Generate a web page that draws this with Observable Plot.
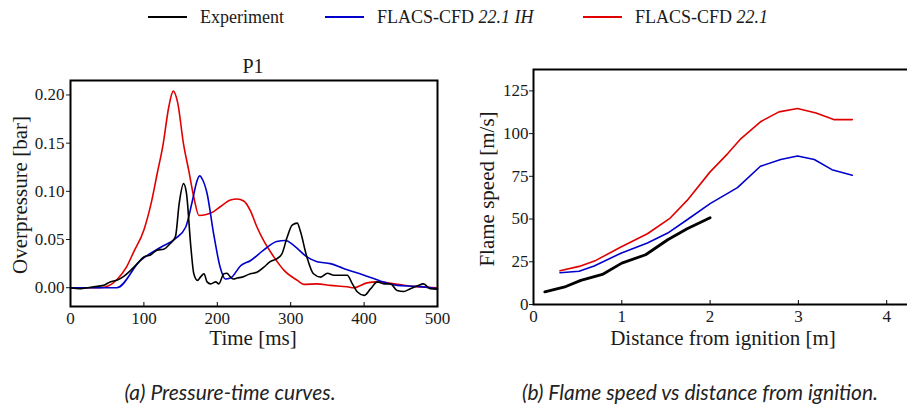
<!DOCTYPE html>
<html>
<head>
<meta charset="utf-8">
<script src="https://cdn.jsdelivr.net/npm/d3@7"></script>
<script src="https://cdn.jsdelivr.net/npm/@observablehq/plot@0.6"></script>
<style>
  html, body { margin: 0; padding: 0; background: #fff; overflow: hidden; }
  #wrap { position: relative; width: 907px; height: 406px; overflow: hidden; font-family: "Liberation Serif", serif; color: #1a1a1a; }
  #wrap svg { max-width: none !important; }
  .abs { position: absolute; white-space: nowrap; }
  .lbl { font-size: 21px; transform: translate(-50%, -50%); }
  .rot { transform: translate(-50%, -50%) rotate(-90deg); }
  .cap { font-family: Lato, "Open Sans", sans-serif; font-style: italic; font-size: 21px; transform: translate(-50%, -50%); color: #222; }
  #legend { position: absolute; top: 17px; left: 0; height: 0; font-size: 18px; }
  .leg-line { position: absolute; height: 0; border-top: 2px solid; top: -1px; }
  .leg-text { position: absolute; transform: translateY(-50%); white-space: nowrap; }
</style>
</head>
<body>
<div id="wrap">
  <div id="legend"></div>
  <div id="left" class="abs" style="left:0;top:0;"></div>
  <div id="right" class="abs" style="left:450px;top:0;"></div>
</div>
<script>
// ---------- Panel (a): pressure-time curves ----------
const expT = [0, 14, 32, 45, 54, 64, 73, 82, 91, 100, 109, 118, 127, 136, 143, 148, 154, 158, 164, 168, 173, 177, 182, 186, 191, 198, 202, 209, 213, 218, 222, 227, 234, 245, 254, 263, 272, 281, 288, 295, 302, 309, 313, 322, 331, 341, 350, 359, 368, 377, 384, 391, 400, 409, 418, 427, 436, 445, 454, 463, 472, 481, 490, 500];
const expP = [0, -0.001, 0.001, 0.0024, 0.006, 0.008, 0.012, 0.018, 0.025, 0.032, 0.034, 0.039, 0.040, 0.046, 0.053, 0.087, 0.108, 0.098, 0.042, 0.0145, 0.0076, 0.011, 0.0145, 0.006, 0.004, 0.006, 0.004, 0.0145, 0.015, 0.011, 0.009, 0.010, 0.011, 0.0145, 0.016, 0.021, 0.027, 0.030, 0.035, 0.052, 0.065, 0.067, 0.059, 0.032, 0.0145, 0.011, 0.015, 0.013, 0.013, 0.013, 0.004, -0.0045, -0.008, -0.001, 0.006, 0.004, 0.004, -0.003, -0.004, -0.001, 0.0017, 0.004, -0.001, -0.0015];

const ihT = [0, 63, 95, 123, 143, 157, 166, 172, 176, 180, 186, 195, 204, 211, 218, 232, 245, 263, 281, 293, 304, 322, 336, 354, 372, 400, 422, 445, 472, 500];
const ihP = [0, 0, 0.028, 0.042, 0.051, 0.063, 0.090, 0.110, 0.116, 0.112, 0.098, 0.056, 0.021, 0.009, 0.010, 0.023, 0.028, 0.039, 0.048, 0.049, 0.044, 0.032, 0.027, 0.025, 0.020, 0.013, 0.007, 0.0024, 0.0014, -0.001];

const cfdT = [0, 40, 52, 64, 76, 86, 100, 110, 118, 126, 134, 140, 146, 154, 161, 168, 175, 185, 195, 204, 218, 227, 236, 245, 254, 263, 277, 291, 309, 318, 336, 354, 377, 386, 404, 418, 445, 472, 500];
const cfdP = [0, 0, 0.002, 0.009, 0.021, 0.037, 0.060, 0.088, 0.118, 0.148, 0.188, 0.204, 0.192, 0.149, 0.122, 0.094, 0.075, 0.076, 0.079, 0.084, 0.091, 0.092, 0.090, 0.080, 0.063, 0.049, 0.032, 0.018, 0.0076, 0.0035, 0.004, 0.0024, 0.001, 0, 0.005, 0.006, 0.0035, 0.001, 0];

const timeTicks = [0, 100, 200, 300, 400, 500];
const pressTicks = [0, 0.05, 0.10, 0.15, 0.20];

// ---------- Panel (b): flame speed vs distance ----------
const expD = [0.128, 0.366, 0.536, 0.78, 1.0, 1.27, 1.52, 1.74, 2.0];
const expS = [7.4, 10.5, 14.1, 17.6, 24.2, 29.1, 37.9, 44.3, 50.8];

const ihD = [0.30, 0.517, 0.687, 0.99, 1.29, 1.52, 1.74, 2.0, 2.31, 2.57, 2.8, 2.99, 3.18, 3.38, 3.61];
const ihS = [18.6, 19.5, 22.5, 30, 36, 41.8, 49.6, 59, 68.4, 80.9, 84.8, 86.9, 84.8, 78.9, 75.6];

const cfdD = [0.30, 0.517, 0.706, 0.99, 1.29, 1.54, 1.74, 2.0, 2.2, 2.35, 2.57, 2.78, 2.99, 3.2, 3.4, 3.61];
const cfdS = [19.7, 22.3, 25.8, 33.6, 41.4, 50.2, 60.9, 77.6, 88.3, 97.1, 106.9, 112.7, 114.7, 112.1, 108.2, 108.2];

const distTicks = [0, 1, 2, 3, 4];
const speedTicks = [0, 25, 50, 75, 100, 125];

// ---------- Legend / text ----------
const seriesNames = ["Experiment", "FLACS-CFD", "FLACS-CFD"];
const seriesSuffix = ["", "22.1 IH", "22.1"];
const seriesColors = ["#000000", "#0000cc", "#e00000"];
const panelTitle = "P1";
const captions = ["(a) Pressure-time curves.", "(b) Flame speed vs distance from ignition."];

const zip = (xs, ys) => xs.map((x, i) => ({x, y: ys[i]}));

const fontStyle = {fontFamily: "Liberation Serif", fontSize: "17px", background: "transparent", overflow: "visible", maxWidth: "none"};

function serifize(svg) {
  svg.querySelectorAll("g, text").forEach(el => {
    el.setAttribute("font-family", "Liberation Serif");
    el.style.setProperty("font-family", "'Liberation Serif', serif", "important");
    el.style.setProperty("font-variant", "normal", "important");
  });
  svg.querySelectorAll("text").forEach(el => {
    el.style.setProperty("font-size", "17px", "important");
    el.setAttribute("fill", "#1a1a1a");
  });
  return svg;
}

// Left chart
const leftH = 360, leftMT = 80, leftMB = 54;
const left = Plot.plot({
  width: 450, height: leftH,
  marginLeft: 70, marginRight: 13, marginTop: leftMT, marginBottom: leftMB,
  style: fontStyle,
  x: {domain: [0, 500]},
  y: {domain: [-0.0195, 0.215]},
  marks: [
    Plot.line(zip(cfdT, cfdP), {x: "x", y: "y", stroke: seriesColors[2], strokeWidth: 1.6, curve: "monotone-x"}),
    Plot.line(zip(ihT, ihP), {x: "x", y: "y", stroke: seriesColors[1], strokeWidth: 1.6, curve: "monotone-x"}),
    Plot.line(zip(expT, expP), {x: "x", y: "y", stroke: seriesColors[0], strokeWidth: 1.6, curve: "monotone-x"}),
    Plot.axisY({ticks: pressTicks, tickFormat: d3.format(".2f"), tickSize: 4, tickPadding: 2, label: null, fontVariant: "normal"}),
    Plot.axisX({ticks: timeTicks, tickFormat: d => String(d), tickSize: 0, tickPadding: 5, label: null, fontVariant: "normal"}),
    Plot.tickX(timeTicks, {x: d => d, stroke: "#000", strokeWidth: 1, insetTop: leftH - leftMT - leftMB - 4}),
    Plot.frame({stroke: "#000", strokeWidth: 2})
  ]
});
document.getElementById("left").appendChild(serifize(left));

// Right chart (its right edge runs past the page, as in the reference)
const rightW = 480, rightML = 83, rightH = 360, rightMT = 69, rightMB = 56;
const right = Plot.plot({
  width: rightW, height: rightH,
  marginLeft: rightML, marginRight: 0, marginTop: rightMT, marginBottom: rightMB,
  style: fontStyle,
  x: {domain: [0, (rightW - rightML) / 88.3]},
  y: {domain: [0, 137.5]},
  marks: [
    Plot.line(zip(cfdD, cfdS), {x: "x", y: "y", stroke: seriesColors[2], strokeWidth: 1.6}),
    Plot.line(zip(ihD, ihS), {x: "x", y: "y", stroke: seriesColors[1], strokeWidth: 1.6}),
    Plot.line(zip(expD, expS), {x: "x", y: "y", stroke: seriesColors[0], strokeWidth: 2.8}),
    Plot.axisY({ticks: speedTicks, tickFormat: d => String(d), tickSize: 4, tickPadding: 1, label: null, fontVariant: "normal"}),
    Plot.axisX({ticks: distTicks, tickFormat: d => String(d), tickSize: 0, tickPadding: 5, label: null, fontVariant: "normal"}),
    Plot.tickX(distTicks, {x: d => d, stroke: "#000", strokeWidth: 1, insetTop: rightH - rightMT - rightMB - 4}),
    Plot.frame({stroke: "#000", strokeWidth: 2})
  ]
});
document.getElementById("right").appendChild(serifize(right));

// HTML text: title, axis labels, captions
const wrap = document.getElementById("wrap");
function addText(txt, x, y, cls, extra) {
  const d = document.createElement("div");
  d.className = "abs " + cls;
  d.style.left = x + "px"; d.style.top = y + "px";
  if (extra) Object.assign(d.style, extra);
  d.textContent = txt;
  wrap.appendChild(d);
}
addText(panelTitle, 253, 66, "lbl", {fontSize: "20px"});
addText("Overpressure [bar]", 20, 195, "lbl rot");
addText("Time [ms]", 253, 338, "lbl");
addText("Flame speed [m/s]", 487, 189, "lbl rot");
addText("Distance from ignition [m]", 723, 338, "lbl");
addText(captions[0], 230, 391, "cap");
addText(captions[1], 700, 391, "cap");

// Legend
const legend = document.getElementById("legend");
const legX = [148, 325, 583];
seriesNames.forEach((name, i) => {
  const ln = document.createElement("div");
  ln.className = "leg-line";
  ln.style.left = legX[i] + "px"; ln.style.width = "39px"; ln.style.borderColor = seriesColors[i];
  legend.appendChild(ln);
  const t = document.createElement("div");
  t.className = "leg-text";
  t.style.left = (legX[i] + 52) + "px";
  t.appendChild(document.createTextNode(name + (seriesSuffix[i] ? " " : "")));
  if (seriesSuffix[i]) {
    const it = document.createElement("i");
    it.textContent = seriesSuffix[i];
    t.appendChild(it);
  }
  legend.appendChild(t);
});
</script>
</body>
</html>
